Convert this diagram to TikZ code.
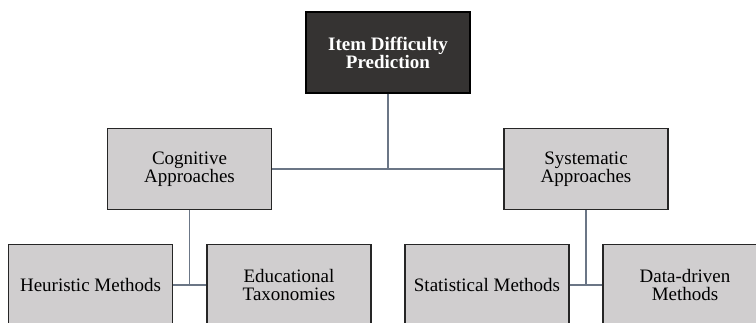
\documentclass[tikz,border=0pt]{standalone}
\usepackage{fontspec}
\setmainfont{Liberation Serif}
\usetikzlibrary{positioning,calc}
\definecolor{boxgray}{RGB}{208,206,207}
\definecolor{rootgray}{RGB}{53,51,50}
\definecolor{linkgray}{RGB}{107,118,134}
\tikzset{
    every node/.append style={font=\fontsize{19}{18}\selectfont}}

\begin{document}
\begin{tikzpicture}[x=1pt,y=-1pt,
    box/.style={draw=black!85,line width=1.2pt,fill=boxgray,align=center,
        minimum width=164pt,minimum height=81pt,inner sep=0pt},
    rootbox/.style={box,fill=rootgray,draw=black,text=white,font=\fontsize{19}{18}\selectfont\bfseries},
    link/.style={draw=linkgray,line width=1.6pt}]
    \useasboundingbox (0,0) rectangle (756,322);
    \clip (0,0) rectangle (756,322);

    % tree
    \node[rootbox] (idp) at (388,52.5) {Item Difficulty\\Prediction};
    \node[box] (cog) at (189.5,169) {Cognitive\\Approaches};
    \node[box] (sys) at (586,169) {Systematic\\Approaches};
    \node[box] (heu) at (90.5,285) {Heuristic Methods};
    \node[box] (edu) at (289,285) {Educational\\Taxonomies};
    \node[box] (stat) at (487,285) {Statistical Methods};
    \node[box] (dat) at (685,285) {Data-driven\\Methods};

    % connectors
    \path[link]
    (idp.south) -- (idp.south |- cog.east)
    (cog.east) -- (sys.west)
    (cog.south) -- (cog.south |- heu.east)
    (heu.east) -- (edu.west)
    (sys.south) -- (sys.south |- stat.east)
    (stat.east) -- (dat.west);
\end{tikzpicture}
\end{document}
